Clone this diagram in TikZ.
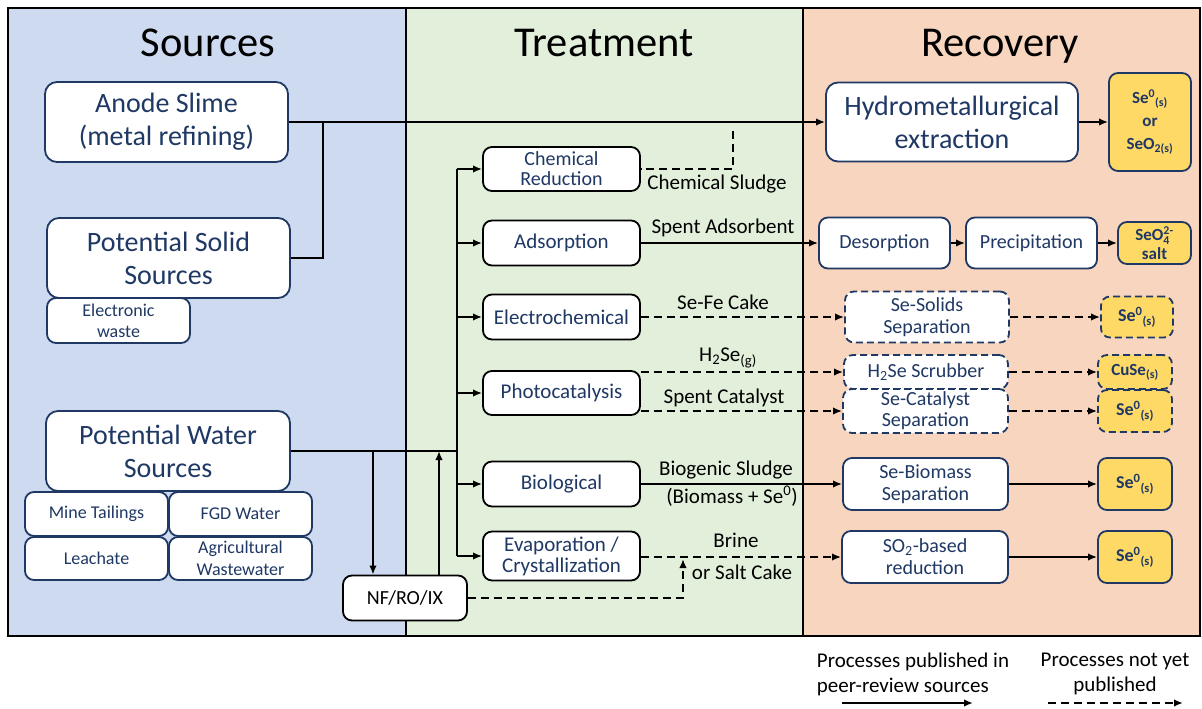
\documentclass[tikz,border=0pt]{standalone}
\usepackage{amsmath}
\usepackage{fontspec}
\setmainfont{Carlito}
\usetikzlibrary{arrows.meta}

\definecolor{navy}{HTML}{1F3864}
\definecolor{srcblue}{HTML}{CDDAF0}
\definecolor{trtgreen}{HTML}{E2EFDA}
\definecolor{recpeach}{HTML}{F8D5BE}
\definecolor{prodgold}{HTML}{FFD966}

\newcommand{\fsz}[2]{\fontsize{#1}{#2}\selectfont}

\begin{document}
\begin{tikzpicture}[x=1pt,y=-1pt,
    box/.style={draw=navy, line width=1.8pt, fill=white, rounded corners=9pt,
      align=center, text=navy, inner sep=0pt},
    bigbox/.style={box, rounded corners=12pt, minimum width=243pt, minimum height=80pt,
      font=\fsz{28}{33}},
    subbox/.style={box, minimum width=143pt, font=\fsz{18}{21}},
    dbox/.style={box, dash pattern=on 7pt off 4pt},
    prod/.style={box, fill=prodgold, font=\fsz{18}{20}\bfseries},
    dprod/.style={prod, dash pattern=on 7pt off 4pt},
    lbl/.style={font=\fsz{21}{25}, inner sep=0pt, align=center},
    title/.style={font=\fsz{42.5}{50}, anchor=base},
    line/.style={line width=1.8pt},
    arr/.style={line, -{Latex[length=9pt,width=7.5pt]}},
    darr/.style={arr, dash pattern=on 8pt off 5pt},
    dline/.style={line, dash pattern=on 8pt off 5pt}]
  \useasboundingbox (0,0) rectangle (1202,709);

  % panels
  \fill[srcblue] (8,8) rectangle (406,636);
  \fill[trtgreen] (406,8) rectangle (803,636);
  \fill[recpeach] (803,8) rectangle (1200,636);
  \draw[line width=2.4pt] (8,8) rectangle (1200,636);
  \draw[line width=2pt] (406,8) -- (406,636);
  \draw[line width=2pt] (803,8) -- (803,636);
  \node[title] (tsrc) at (208,57) {Sources};
  \node[title] (ttrt) at (604,57) {Treatment};
  \node[title] (trec) at (1000,57) {Recovery};

  % sources
  \node[bigbox] (anode) at (166.5,122) {Anode Slime\\(metal refining)};
  \node[bigbox] (solid) at (168.5,258) {Potential Solid\\Sources};
  \node[subbox, minimum height=45pt] (ewaste) at (118.5,320.5) {Electronic\\waste};
  \node[bigbox, minimum width=244pt] (water) at (168,451) {Potential Water\\Sources};
  \node[subbox, minimum height=44pt] (mine) at (96.5,514) {Mine Tailings};
  \node[subbox, minimum height=44pt] (fgd) at (240.5,514) {FGD Water};
  \node[subbox, minimum height=43pt] (leach) at (96.5,558.5) {Leachate};
  \node[subbox, minimum height=43pt, font=\fsz{18}{22}] (agri) at (240.5,558.5) {Agricultural\\Wastewater};
  \node[box, draw=black, text=black, minimum width=124pt, minimum height=45pt, font=\fsz{20}{24}]
    (nf) at (405,598) {NF/RO/IX};

  % treatment
  \tikzset{tbox/.style={box, draw=black, minimum width=157pt, font=\fsz{21}{21}}}
  \node[tbox, minimum height=44pt, font=\fsz{20}{20}] (chem) at (561.5,169) {Chemical\\Reduction};
  \node[tbox, minimum height=45pt] (ads) at (561.5,243) {Adsorption};
  \node[tbox, minimum height=45pt] (elec) at (561.5,317) {Electrochemical};
  \node[tbox, minimum height=44pt] (photo) at (561.5,393) {Photocatalysis};
  \node[tbox, minimum height=45pt] (bio) at (561.5,484) {Biological};
  \node[tbox, minimum height=49pt] (evap) at (561.5,556) {Evaporation /\\Crystallization};

  % recovery
  \node[box, rounded corners=12pt, minimum width=252pt, minimum height=79pt, font=\fsz{28}{33}]
    (hydro) at (952,122) {Hydrometallurgical\\extraction};
  \node[prod, minimum width=82pt, minimum height=98pt, font=\fsz{17}{23}\bfseries] (p1) at (1150,122)
    {Se\textsuperscript{0}\textsubscript{(s)}\\or\\SeO\textsubscript{2(s)}};
  \node[box, minimum width=131pt, minimum height=51pt, font=\fsz{20}{24}] (desorb) at (884.5,243) {Desorption};
  \node[box, minimum width=131pt, minimum height=51pt, font=\fsz{20}{24}] (precip) at (1031.5,243) {Precipitation};
  \node[prod, minimum width=73pt, minimum height=42pt, font=\fsz{17}{19}\bfseries] (p2) at (1154.5,243)
    {SeO$_{\text{4}}^{\text{2-}}$\\salt};
  \node[dbox, minimum width=164pt, minimum height=51pt, font=\fsz{20}{22}] (solsep) at (927,317) {Se-Solids\\Separation};
  \node[dprod, minimum width=72pt, minimum height=41pt] (p3) at (1137,317) {Se\textsuperscript{0}\textsubscript{(s)}};
  \node[dbox, minimum width=164pt, minimum height=34pt, font=\fsz{20}{22}] (scrub) at (926,372) {H\textsubscript{2}Se Scrubber};
  \node[dprod, minimum width=74pt, minimum height=34pt, font=\fsz{17}{20}\bfseries] (p4) at (1135,372) {CuSe\textsubscript{(s)}};
  \node[dbox, minimum width=165pt, minimum height=44pt, font=\fsz{20}{21}] (catsep) at (925.5,411) {Se-Catalyst\\Separation};
  \node[dprod, minimum width=74pt, minimum height=42pt] (p5) at (1135,411) {Se\textsuperscript{0}\textsubscript{(s)}};
  \node[box, minimum width=165pt, minimum height=52pt, font=\fsz{20}{22}] (biosep) at (925.5,484) {Se-Biomass\\Separation};
  \node[prod, minimum width=74pt, minimum height=52pt] (p6) at (1135,484) {Se\textsuperscript{0}\textsubscript{(s)}};
  \node[box, minimum width=166pt, minimum height=52pt, font=\fsz{20}{22}] (so2) at (925,557) {SO\textsubscript{2}-based\\reduction};
  \node[prod, minimum width=74pt, minimum height=52pt] (p7) at (1135,557) {Se\textsuperscript{0}\textsubscript{(s)}};

  % connector labels
  \node[lbl] (lchem) at (717,184) {Chemical Sludge};
  \node[lbl] (lads) at (723,228) {Spent Adsorbent};
  \node[lbl] (lelec) at (723,302) {Se-Fe Cake};
  \node[lbl] (lh2se) at (728,358) {H\textsubscript{2}Se\textsubscript{(g)}};
  \node[lbl] (lcat) at (724,398) {Spent Catalyst};
  \node[lbl] (lbio1) at (726,470) {Biogenic Sludge};
  \node[lbl] (lbio2) at (732,496) {(Biomass + Se\textsuperscript{0})};
  \node[lbl] (lbrine) at (736,540) {Brine};
  \node[lbl] (lsalt) at (742,572) {or Salt Cake};

  % solid feeds
  \coordinate (sj) at (323,122);
  \draw[arr] (anode.east) -- (hydro.west);
  \draw[line] (solid.east) -| (sj);
  \coordinate (sl) at (733,131);
  \draw[dline] (sl) |- (chem.east);

  % water feeds
  \coordinate (wt) at (457,451);
  \coordinate (nfin) at (373,451);
  \coordinate (nfout) at (439,451);
  \draw[line] (water.east) -- (wt);
  \draw[line] (wt |- chem) -- (wt |- evap);
  \foreach \n in {chem,ads,elec,photo,bio,evap}
    \draw[arr] (wt |- \n) -- (\n.west);
  \draw[arr] (nfin) -- (nfin |- nf.north);
  \draw[arr] (nfout |- nf.north) -- (nfout);
  \coordinate (bj) at (683,559);
  \draw[darr] (nf.east) -| (bj);

  % treatment to recovery
  \draw[arr] (ads.east) -- (desorb.west);
  \draw[darr] (elec.east) -- (solsep.west);
  \draw[darr] (photo.east |- scrub.west) -- (scrub.west);
  \draw[darr] (photo.east |- catsep.west) -- (catsep.west);
  \draw[arr] (bio.east) -- (biosep.west);
  \draw[darr] (evap.east |- so2.west) -- (so2.west);

  % recovery to products
  \draw[arr] (hydro.east) -- (p1.west);
  \draw[arr] (desorb.east) -- (precip.west);
  \draw[arr] (precip.east) -- (p2.west);
  \draw[darr] (solsep.east) -- (p3.west);
  \draw[darr] (scrub.east) -- (p4.west);
  \draw[darr] (catsep.east) -- (p5.west);
  \draw[arr] (biosep.east) -- (p6.west);
  \draw[arr] (so2.east) -- (p7.west);

  % legend
  \node[lbl, align=left] (leg1) at (913,674) {Processes published in\\peer-review sources};
  \node[lbl] (leg2) at (1115,674) {Processes not yet\\published};
  \coordinate (la) at (842,703);
  \coordinate (lb) at (973,703);
  \coordinate (lc) at (1048,703);
  \coordinate (ld) at (1183,703);
  \draw[arr] (la) -- (lb);
  \draw[darr] (lc) -- (ld);
\end{tikzpicture}
\end{document}
